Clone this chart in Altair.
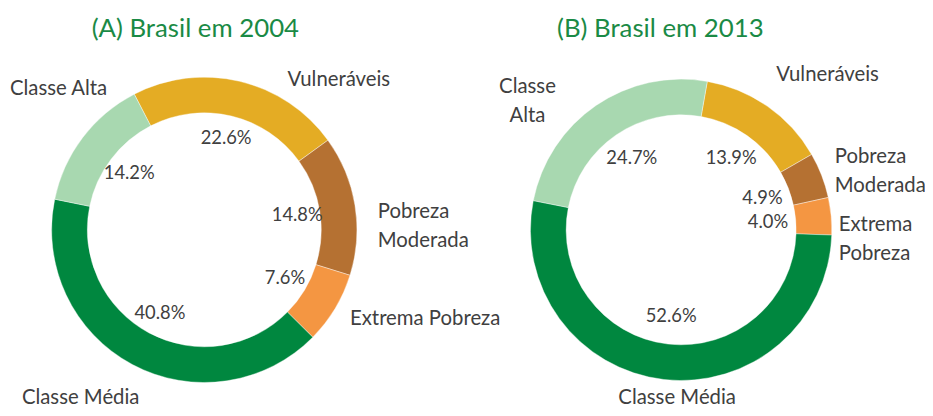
import math
import altair as alt
import pandas as pd

# ---------------- data ----------------
categories = ["Vulneráveis", "Pobreza Moderada", "Extrema Pobreza", "Classe Média", "Classe Alta"]
values_2004 = [22.6, 14.8, 7.6, 40.8, 14.2]
values_2013 = [13.9, 4.9, 4.0, 52.6, 24.7]
titles = ["(A) Brasil em 2004", "(B) Brasil em 2013"]
names_2004 = ["Vulneráveis", "Pobreza\nModerada", "Extrema Pobreza", "Classe Média", "Classe Alta"]
names_2013 = ["Vulneráveis", "Pobreza\nModerada", "Extrema\nPobreza", "Classe Média", "Classe\nAlta"]

# ---------------- styles / layout ----------------
colors = ["#E4AC24", "#B57132", "#F49642", "#00873F", "#A8D8B0"]
TEXT = "#404040"
TITLE = "#1A8A45"
FONT = "Lato"
W, H = 925, 400

layout = [
    dict(cx=198, cy=222, r_out=154, r_in=118, start=-27.3, pct_r=95, title_x=189, title_y=28,
         # (x, y_baseline_first_line, align) for each category in order
         name_pos=[(282, 77, "left"), (373, 210, "left"), (345, 318, "left"), (14, 398, "left"), (2, 86, "left")]),
    dict(cx=679, cy=222, r_out=152, r_in=116, start=10.0, pct_r=88, title_x=658, title_y=28,
         name_pos=[(775, 72, "left"), (834, 155, "left"), (838, 223, "left"), (675, 398, "center"), (524, 84, "center")]),
]


def donut(values, names, title, P):
    df = pd.DataFrame({"cat": categories, "value": values, "ord": list(range(len(categories)))})
    s = math.radians(P["start"])
    base = alt.Chart(df).encode(
        theta=alt.Theta("value:Q", stack=True, scale=alt.Scale(range=[s, s + 2 * math.pi])),
        order=alt.Order("ord:Q"),
    )
    arc = base.mark_arc(
        x=P["cx"], y=P["cy"], outerRadius=P["r_out"], innerRadius=P["r_in"],
        stroke="white", strokeWidth=0.4,
    ).encode(
        color=alt.Color("cat:N", scale=alt.Scale(domain=categories, range=colors), legend=None)
    )
    pct = base.transform_calculate(
        pct="format(datum.value, '.1f') + '%'"
    ).mark_text(
        x=P["cx"], y=P["cy"], radius=P["pct_r"], font=FONT, fontSize=18.5, color=TEXT,
        baseline="middle", align="center",
    ).encode(text="pct:N")

    layers = [arc, pct]
    for name, (lx, ly, al) in zip(names, P["name_pos"]):
        layers.append(
            alt.Chart(pd.DataFrame({"t": [name]})).mark_text(
                font=FONT, fontSize=20.5, color=TEXT, align=al, baseline="alphabetic",
                lineBreak="\n", lineHeight=29,
            ).encode(text="t:N", x=alt.value(lx), y=alt.value(ly))
        )
    layers.append(
        alt.Chart(pd.DataFrame({"t": [title]})).mark_text(
            font=FONT, fontSize=26, color=TITLE, align="center", baseline="alphabetic",
        ).encode(text="t:N", x=alt.value(P["title_x"]), y=alt.value(P["title_y"]))
    )
    return alt.layer(*layers)


left = donut(values_2004, names_2004, titles[0], layout[0])
right = donut(values_2013, names_2013, titles[1], layout[1])

chart = alt.layer(left, right).resolve_scale(theta="independent").properties(
    width=W, height=H, padding=0, autosize=alt.AutoSizeParams(type="none")
).configure_view(stroke=None)

chart.save("out.html", embed_options={"renderer": "svg", "actions": False})
